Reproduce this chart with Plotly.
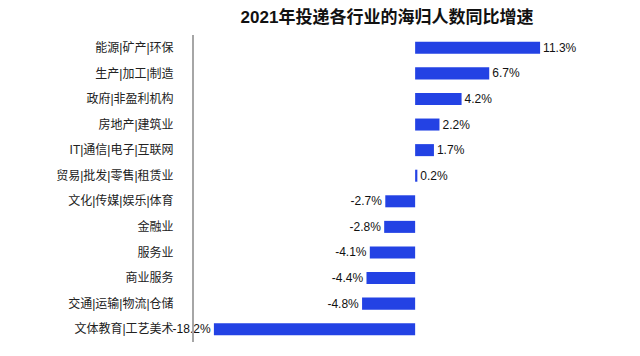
import plotly.graph_objects as go

categories = ["能源|矿产|环保", "生产|加工|制造", "政府|非盈利机构", "房地产|建筑业",
              "IT|通信|电子|互联网", "贸易|批发|零售|租赁业", "文化|传媒|娱乐|体育",
              "金融业", "服务业", "商业服务", "交通|运输|物流|仓储", "文体教育|工艺美术"]
growth = [11.3, 6.7, 4.2, 2.2, 1.7, 0.2, -2.7, -2.8, -4.1, -4.4, -4.8, -18.2]
labels = [f"{v}%" for v in growth]

font_family = "Liberation Sans, Arial, Noto Sans CJK SC, sans-serif"

fig = go.Figure(go.Bar(
    x=growth, y=categories, orientation="h",
    marker=dict(color="#2342E4", line=dict(width=0)),
    width=0.47,
    text=labels, textposition="outside", cliponaxis=False, constraintext="none",
    textfont=dict(size=12, color="#111111", family=font_family),
))

# page body has an 8px default margin, so offsets are compensated here
fig.update_layout(
    width=640, height=356,
    margin=dict(l=186, r=67, t=27, b=22),
    paper_bgcolor="white", plot_bgcolor="white",
    showlegend=False,
    title=dict(text="<b>2021年投递各行业的海归人数同比增速</b>",
               x=379/640, xref="container", xanchor="center",
               y=1 - 3/356, yref="container", yanchor="top",
               font=dict(size=17, color="#111111", family=font_family)),
    xaxis=dict(range=[-20, 15], visible=False, showgrid=False, zeroline=False,
               automargin=False),
    yaxis=dict(autorange="reversed", showline=True, linecolor="#a6a6a6", linewidth=2,
               ticks="outside", ticklen=16, tickcolor="rgba(0,0,0,0)",
               showgrid=False, automargin=False,
               tickfont=dict(size=12, color="#222222", family=font_family)),
)

fig.write_html("out.html")
